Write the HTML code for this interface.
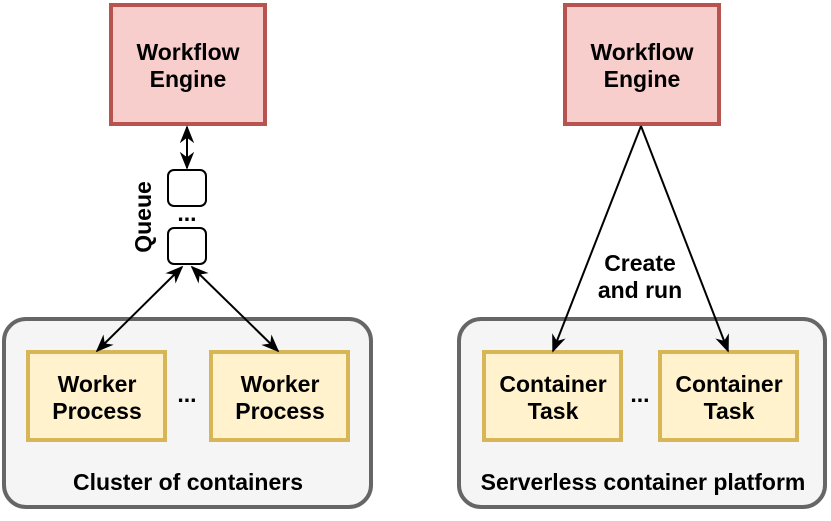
<!DOCTYPE html>
<html><head><style>
html,body{margin:0;padding:0;background:#fff}
text{font-family:"Liberation Sans",Arial,sans-serif;font-weight:bold;font-size:23px;fill:#000}
</style></head><body>
<svg width="831" height="516" viewBox="0 0 831 516" xmlns="http://www.w3.org/2000/svg">
<defs>
<marker id="b" viewBox="0 0 10 10" refX="9" refY="5" markerWidth="18" markerHeight="18" orient="auto-start-reverse" markerUnits="userSpaceOnUse">
<path d="M0,1 L10,5 L0,9 L3,5 z" fill="#000"/>
</marker>
</defs>
<rect x="4" y="319" width="367" height="188" rx="22" fill="#f5f5f5" stroke="#666" stroke-width="4"/>
<rect x="459" y="319" width="366" height="188" rx="22" fill="#f5f5f5" stroke="#666" stroke-width="4"/>
<rect x="111" y="5" width="154" height="119" fill="#f8cecc" stroke="#b85450" stroke-width="4"/>
<rect x="565" y="5" width="154" height="119" fill="#f8cecc" stroke="#b85450" stroke-width="4"/>
<text x="188" y="60" text-anchor="middle">Workflow</text>
<text x="188" y="87" text-anchor="middle">Engine</text>
<text x="642" y="60" text-anchor="middle">Workflow</text>
<text x="642" y="87" text-anchor="middle">Engine</text>
<rect x="28" y="352" width="137" height="88" fill="#fff2cc" stroke="#d6b656" stroke-width="4"/>
<rect x="211" y="352" width="137" height="88" fill="#fff2cc" stroke="#d6b656" stroke-width="4"/>
<text x="97" y="392" text-anchor="middle">Worker</text>
<text x="97" y="419" text-anchor="middle">Process</text>
<text x="280" y="392" text-anchor="middle">Worker</text>
<text x="280" y="419" text-anchor="middle">Process</text>
<text x="187" y="402" text-anchor="middle">...</text>
<text x="188" y="490" text-anchor="middle">Cluster of containers</text>
<rect x="484" y="352" width="137" height="88" fill="#fff2cc" stroke="#d6b656" stroke-width="4"/>
<rect x="660" y="352" width="137" height="88" fill="#fff2cc" stroke="#d6b656" stroke-width="4"/>
<text x="553" y="392" text-anchor="middle">Container</text>
<text x="553" y="419" text-anchor="middle">Task</text>
<text x="729" y="392" text-anchor="middle">Container</text>
<text x="729" y="419" text-anchor="middle">Task</text>
<text x="640" y="402" text-anchor="middle">...</text>
<text x="643" y="490" text-anchor="middle">Serverless container platform</text>
<rect x="168" y="170" width="38" height="36" rx="6" fill="#fff" stroke="#000" stroke-width="2"/>
<rect x="168" y="228" width="38" height="36" rx="6" fill="#fff" stroke="#000" stroke-width="2"/>
<text x="187" y="221" text-anchor="middle">...</text>
<text transform="translate(151,217) rotate(-90)" text-anchor="middle">Queue</text>
<line x1="187" y1="127" x2="187" y2="168" stroke="#000" stroke-width="2" marker-start="url(#b)" marker-end="url(#b)"/>
<line x1="182" y1="267" x2="97" y2="351" stroke="#000" stroke-width="2" marker-start="url(#b)" marker-end="url(#b)"/>
<line x1="192" y1="267" x2="278" y2="351" stroke="#000" stroke-width="2" marker-start="url(#b)" marker-end="url(#b)"/>
<line x1="641" y1="126" x2="553" y2="351" stroke="#000" stroke-width="2" marker-end="url(#b)"/>
<line x1="641" y1="126" x2="728" y2="351" stroke="#000" stroke-width="2" marker-end="url(#b)"/>
<text x="640" y="271" text-anchor="middle">Create</text>
<text x="640" y="298" text-anchor="middle">and run</text>
</svg>
</body></html>
